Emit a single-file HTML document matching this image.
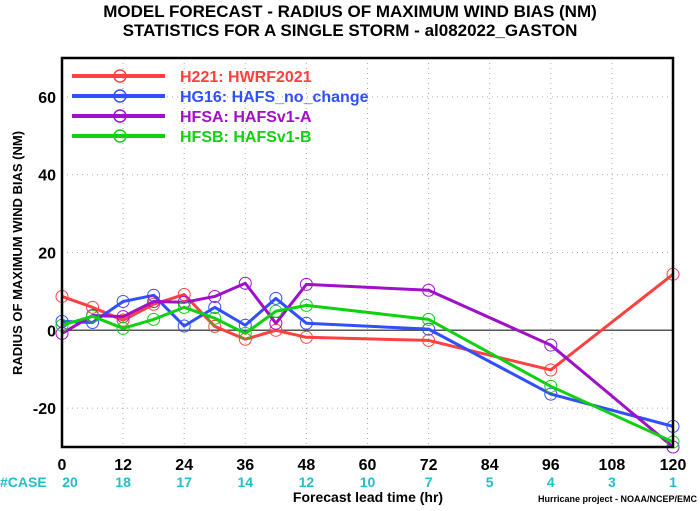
<!DOCTYPE html>
<html><head><meta charset="utf-8"><style>
body{margin:0;background:#fff;}
svg text{font-family:"Liberation Sans",sans-serif;font-weight:bold;}
</style></head><body>
<svg width="700" height="506" viewBox="0 0 700 506" xmlns="http://www.w3.org/2000/svg">
<text x="350" y="17" text-anchor="middle" font-size="17">MODEL FORECAST - RADIUS OF MAXIMUM WIND BIAS (NM)</text>
<text x="350" y="36" text-anchor="middle" font-size="17">STATISTICS FOR A SINGLE STORM - al082022_GASTON</text>
<g id="grid"></g>
<g id="series"></g>
<g id="axes"></g>
<g id="legend"></g>
<text transform="translate(22,253) rotate(-90)" text-anchor="middle" font-size="13">RADIUS OF MAXIMUM WIND BIAS (NM)</text>
<text x="368" y="502" text-anchor="middle" font-size="14">Forecast lead time (hr)</text>
<text x="697" y="502" text-anchor="end" font-size="9" font-weight="normal">Hurricane project - NOAA/NCEP/EMC</text>
</svg>
<script>
const hours=[0,6,12,18,24,30,36,42,48,72,96,120];
const h221=[8.7,5.9,2.6,6.7,9.2,1,-2.3,0,-1.8,-2.6,-10.2,14.4];
const hg16=[2.3,2,7.4,9,1.1,5.9,1.3,8.2,1.8,0.3,-16.4,-24.7];
const hfsa=[-0.8,3.8,3.5,7.4,7.2,8.7,12.1,1.8,11.8,10.3,-3.8,-30];
const hfsb=[1.3,3.6,0.5,2.8,5.9,3.1,-0.8,4.9,6.4,2.8,-14.4,-28.7];
const xTicks=[0,12,24,36,48,60,72,84,96,108,120];
const yTicks=[-20,0,20,40,60];
const caseTicks=[0,12,24,36,48,60,72,84,96,108,120];
const caseCounts=["20","18","17","14","12","10","7","5","4","3","1"];
const seriesNames=["H221: HWRF2021","HG16: HAFS_no_change","HFSA: HAFSv1-A","HFSB: HAFSv1-B"];
const seriesColors=["#ff4040","#3050ff","#a010c8","#10d010"];
const seriesData=[h221,hg16,hfsa,hfsb];
const X0=62,X1=673,Y0=447,Y1=58,yMin=-30,yMax=70;
const sx=v=>X0+(v-0)/(120)*(X1-X0);
const sy=v=>Y0-(v-yMin)/(yMax-yMin)*(Y0-Y1);
const NS="http://www.w3.org/2000/svg";
function mk(tag,attrs,parent){const e=document.createElementNS(NS,tag);for(const k in attrs)e.setAttribute(k,attrs[k]);parent.appendChild(e);return e;}
const grid=document.getElementById('grid'),axes=document.getElementById('axes'),ser=document.getElementById('series'),leg=document.getElementById('legend');
xTicks.forEach(t=>{if(t>0&&t<120){const l=mk('line',{x1:sx(t),x2:sx(t),y1:Y1,y2:Y0,stroke:'#aaa','stroke-dasharray':'1,4'},grid);}
 const tx=mk('text',{x:sx(t),y:470,'text-anchor':'middle','font-size':'16'},axes);tx.textContent=t;});
yTicks.forEach(t=>{if(t!==0){const l=mk('line',{x1:X0,x2:X1,y1:sy(t),y2:sy(t),stroke:'#aaa','stroke-dasharray':'1,4'},grid);}
 const tx=mk('text',{x:X0-6,y:sy(t)+6,'text-anchor':'end','font-size':'16'},axes);tx.textContent=t;});
const zl=mk('line',{x1:X0,x2:X1,y1:sy(0),y2:sy(0),stroke:'#555','stroke-width':1.5},grid);

const fr=mk('rect',{x:X0,y:Y1,width:X1-X0,height:Y0-Y1,fill:'none',stroke:'#000','stroke-width':2.5},axes);

const ct=mk('text',{x:0,y:487,'font-size':'14',fill:'#20c0c8'},axes);ct.textContent='#CASE';

caseTicks.forEach((t,i)=>{const tx=mk('text',{x:sx(t)+(i===0?8:0),y:487,'text-anchor':'middle','font-size':'14',fill:'#20c0c8'},axes);tx.textContent=caseCounts[i];});
seriesData.forEach((d,si)=>{const g=mk('g',{},ser);
 const pts=d.map((v,i)=>sx(hours[i])+','+sy(v)).join(' ');
 mk('polyline',{points:pts,fill:'none',stroke:seriesColors[si],'stroke-width':3,'stroke-linejoin':'round'},g);
 d.forEach((v,i)=>{const c=mk('circle',{cx:sx(hours[i]),cy:sy(v),r:6,fill:'none',stroke:seriesColors[si],'stroke-width':1},g);});
 const y=76+si*20;const lg=mk('g',{},leg);
 mk('line',{x1:72,x2:165,y1:y,y2:y,stroke:seriesColors[si],'stroke-width':4},lg);
 mk('circle',{cx:120,cy:y,r:6,fill:'none',stroke:seriesColors[si],'stroke-width':1.5},lg);
 const tx=mk('text',{x:180,y:y+6,'font-size':'16',fill:seriesColors[si]},lg);tx.textContent=seriesNames[si];});
</script>
</body></html>
